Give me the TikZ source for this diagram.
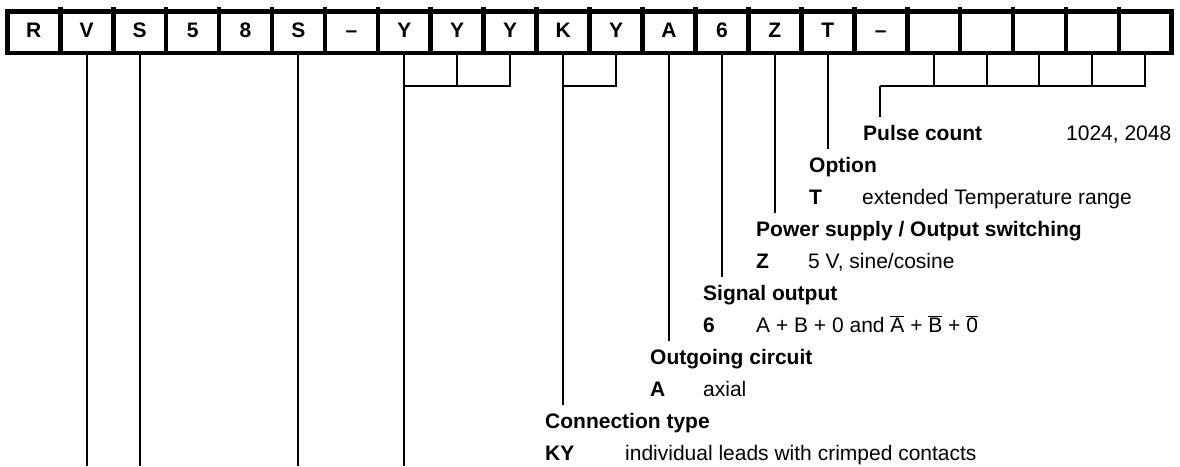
\documentclass[tikz,border=0pt]{standalone}
\usepackage{fontspec}
\setmainfont{Liberation Sans}
\usetikzlibrary{positioning}

\newcommand{\olbar}[1]{$\overline{\mbox{#1}}$}
\newcommand{\legsize}{\fontsize{21}{24}\selectfont}

\tikzset{
  cell/.style={draw, line width=4.7pt, minimum width=52.93pt, minimum height=41.3pt,
    inner sep=0pt, outer sep=0pt, font=\legsize\bfseries, text height=14pt, text depth=4pt},
  lead/.style={line width=2pt},
  head/.style={anchor=base west, inner xsep=0pt, inner ysep=8pt, font=\legsize\bfseries,
    text height=15pt},
  key/.style={anchor=base west, inner sep=0pt, font=\legsize\bfseries},
  desc/.style={anchor=base west, inner sep=0pt, font=\legsize}
}

\begin{document}
\begin{tikzpicture}[x=1pt, y=1pt, node distance=52.93pt]
  \useasboundingbox (0,0) rectangle (1180,-466);

  % type code
  \node (c0) [cell] at (33.8,-32.3) {R};
  \node (c1) [cell, right of=c0] {V};
  \node (c2) [cell, right of=c1] {S};
  \node (c3) [cell, right of=c2] {5};
  \node (c4) [cell, right of=c3] {8};
  \node (c5) [cell, right of=c4] {S};
  \node (c6) [cell, right of=c5] {–};
  \node (c7) [cell, right of=c6] {Y};
  \node (c8) [cell, right of=c7] {Y};
  \node (c9) [cell, right of=c8] {Y};
  \node (c10) [cell, right of=c9] {K};
  \node (c11) [cell, right of=c10] {Y};
  \node (c12) [cell, right of=c11] {A};
  \node (c13) [cell, right of=c12] {6};
  \node (c14) [cell, right of=c13] {Z};
  \node (c15) [cell, right of=c14] {T};
  \node (c16) [cell, right of=c15] {–};
  \node (c17) [cell, right of=c16] {};
  \node (c18) [cell, right of=c17] {};
  \node (c19) [cell, right of=c18] {};
  \node (c20) [cell, right of=c19] {};
  \node (c21) [cell, right of=c20] {};
  \foreach \i in {0,...,20}
    \draw[line width=4.7pt] (c\i.north east) -- ++(0,4.4);

  \coordinate (brk) at (0,-86);
  \coordinate (bot) at (0,-466);
  \coordinate (pk) at (880,-86);

  % legend
  \node (pulse) [head] at (863,-140) {Pulse count};
  \node (pulseval) [desc] at (1066,-140) {1024, 2048};
  \node (opt) [head] at (809,-172) {Option};
  \node (optkey) [key] at (809,-204) {T};
  \node (optval) [desc] at (862,-204) {extended Temperature range};
  \node (pwr) [head] at (756,-236) {Power supply / Output switching};
  \node (pwrkey) [key] at (756,-268) {Z};
  \node (pwrval) [desc] at (808,-268) {5 V, sine/cosine};
  \node (sig) [head] at (703,-300) {Signal output};
  \node (sigkey) [key] at (703,-332) {6};
  \node (sigval) [desc] at (756,-332) {A + B + 0 and \olbar{A} + \olbar{B} + \olbar{0}};
  \node (outg) [head] at (650,-364) {Outgoing circuit};
  \node (outgkey) [key] at (650,-396) {A};
  \node (outgval) [desc] at (703,-396) {axial};
  \node (conn) [head] at (545,-428) {Connection type};
  \node (connkey) [key] at (545,-460) {KY};
  \node (connval) [desc] at (625,-460) {individual leads with crimped contacts};

  % leads
  \draw[lead] (c1.south) -- (c1 |- bot);
  \draw[lead] (c2.south) -- (c2 |- bot);
  \draw[lead] (c5.south) -- (c5 |- bot);
  \draw[lead] (c9.south) -- (c9 |- brk) -- (c7 |- brk);
  \draw[lead] (c8.south) -- (c8 |- brk);
  \draw[lead] (c7.south) -- (c7 |- bot);
  \draw[lead] (c11.south) -- (c11 |- brk) -- (c10 |- brk);
  \draw[lead] (c10.south) -- (c10.south |- conn.north);
  \draw[lead] (c12.south) -- (c12.south |- outg.north);
  \draw[lead] (c13.south) -- (c13.south |- sig.north);
  \draw[lead] (c14.south) -- (c14.south |- pwr.north);
  \draw[lead] (c15.south) -- (c15.south |- opt.north);
  \draw[lead] (c21.south) -- (c21 |- brk) -- (pk);
  \draw[lead] (c17.south) -- (c17 |- brk);
  \draw[lead] (c18.south) -- (c18 |- brk);
  \draw[lead] (c19.south) -- (c19 |- brk);
  \draw[lead] (c20.south) -- (c20 |- brk);
  \draw[lead] (pk) -- (pk |- pulse.north);
\end{tikzpicture}
\end{document}
